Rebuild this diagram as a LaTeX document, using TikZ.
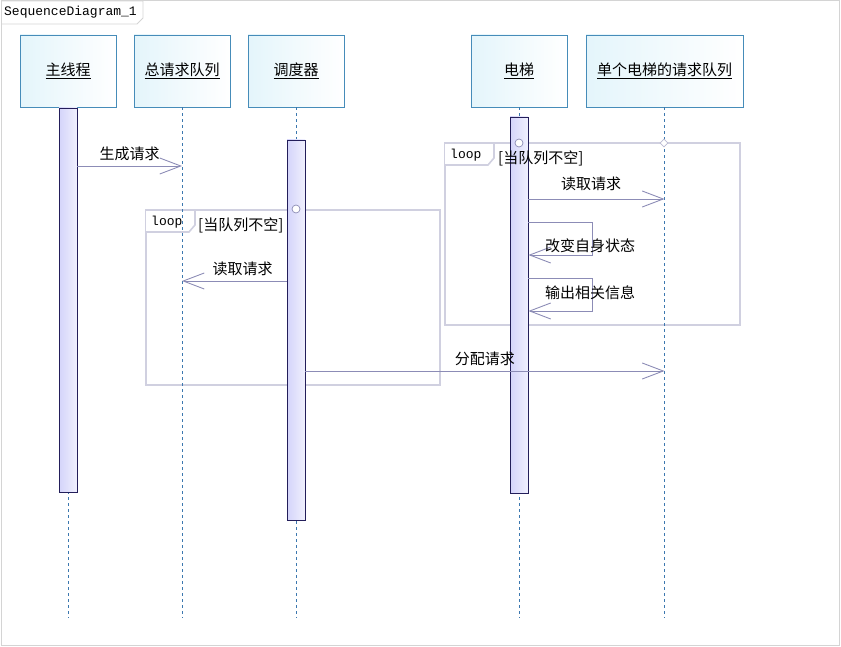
\documentclass[tikz,border=0pt]{standalone}
\usepackage{fontspec}
\setmainfont{Noto Sans CJK SC}
\setmonofont{Liberation Mono}
\usepackage{tikz}
\usetikzlibrary{arrows.meta,calc,positioning,shapes.geometric}
\definecolor{HeadBorder}{RGB}{70,140,185}
\definecolor{HeadFill}{RGB}{228,245,251}
\definecolor{BarBorder}{RGB}{35,30,90}
\definecolor{BarFill}{RGB}{212,212,250}
\definecolor{MsgGray}{RGB}{140,140,182}
\definecolor{FrameGray}{RGB}{208,208,224}
\definecolor{LifeBlue}{RGB}{60,120,175}
\definecolor{EdgeGray}{RGB}{212,212,212}

\begin{document}
\begin{tikzpicture}[x=1pt,y=-1pt,
  every node/.style={font=\fontsize{15}{18}\selectfont,text=black},
  head/.style={draw=HeadBorder,line width=.8pt,left color=HeadFill,right color=white,minimum height=72pt,inner sep=0pt},
  actbar/.style={draw=BarBorder,line width=.9pt,left color=BarFill,right color=BarFill!35,minimum width=18pt,inner sep=0pt},
  lifeline/.style={LifeBlue,line width=.7pt,dash pattern=on 3pt off 3pt},
  msg/.style={MsgGray,line width=.9pt,-{Straight Barb[length=21pt,width=16pt,line width=.9pt]}},
  loopframe/.style={FrameGray,line width=2.8pt},
  looptag/.style={font=\fontsize{13}{15}\ttfamily,inner sep=0pt,anchor=west},
  guard/.style={inner sep=0pt,anchor=west},
  ringmark/.style={circle,draw=MsgGray,fill=white,line width=.7pt,minimum size=8pt,inner sep=0pt}]
\useasboundingbox (0,0) rectangle (841,647);
\draw[EdgeGray,line width=1pt] (1,1) rectangle (839,645);
\draw[EdgeGray,line width=.8pt] (1,1) -- (143,1) -- (143,18) -- (137,24) -- (1,24);
\node[looptag] (title) at (4,12) {SequenceDiagram\_1};
% participants
\node[head,minimum width=96pt] (mainThread) at (68,71) {\underline{主线程}};
\node[head,minimum width=96pt] (totalQueue) at (182,71) {\underline{总请求队列}};
\node[head,minimum width=96pt] (scheduler) at (296,71) {\underline{调度器}};
\node[head,minimum width=96pt] (elevator) at (519,71) {\underline{电梯}};
\node[head,minimum width=157pt] (elevQueue) at (664.5,71) {\underline{单个电梯的请求队列}};
\coordinate (bottom) at (0,618);
% loop frames
\draw[loopframe] (146,210) rectangle (440,385);
\draw[FrameGray,line width=1.6pt,fill=white] (146,210) -- (195,210) -- (195,225) -- (189,232) -- (146,232);
\node[looptag] (loopA) at (151,222) {loop};
\draw[loopframe] (445,143) rectangle (740,325);
\draw[FrameGray,line width=1.6pt,fill=white] (445,143) -- (494,143) -- (494,158) -- (488,165) -- (445,165);
\node[looptag] (loopB) at (450,155) {loop};
% lifelines
\foreach \p in {mainThread,totalQueue,scheduler,elevator,elevQueue}
  \draw[lifeline] (\p.south) -- (\p.south |- bottom);
% activations
\node[actbar,minimum height=384pt] (actMain) at (68,300) {};
\node[actbar,minimum height=380pt] (actSched) at (296,330) {};
\node[actbar,minimum height=376pt] (actElev) at (519,305) {};
\node[ringmark] (markA) at (296,209) {};
\node[ringmark] (markB) at (519,143) {};
\node[diamond,draw=MsgGray!60,fill=white,line width=.6pt,minimum size=8pt,inner sep=0pt] (markC) at (664,143) {};
\node[guard] (guardA) at (198,225) {[当队列不空]};
\node[guard] (guardB) at (498,158) {[当队列不空]};
% messages
\coordinate (m1) at (0,166);\coordinate (m2) at (0,281);\coordinate (m3) at (0,199);
\coordinate (s1) at (0,222);\coordinate (s1e) at (0,255);\coordinate (s2) at (0,278);\coordinate (s2e) at (0,311);
\coordinate (m4) at (0,371);
\draw[msg] (actMain.east |- m1) -- (totalQueue |- m1) node[midway,above=1pt] (lblGen) {生成请求};
\draw[msg] (actSched.west |- m2) -- (totalQueue |- m2) node[pos=.42,above=1pt] (lblReadA) {读取请求};
\draw[msg] (actElev.east |- m3) -- (elevQueue |- m3) node[pos=.46,above=4pt] (lblReadB) {读取请求};
\draw[msg] (actElev.east |- s1) -- ++(64,0) -- ++(0,33) -- (actElev.east |- s1e);
\node (lblState) at (590,246) {改变自身状态};
\draw[msg] (actElev.east |- s2) -- ++(64,0) -- ++(0,33) -- (actElev.east |- s2e);
\node (lblInfo) at (590,293) {输出相关信息};
\draw[msg] (actSched.east |- m4) -- (elevQueue |- m4) node[pos=.5,above=1pt] (lblAssign) {分配请求};
\end{tikzpicture}
\end{document}
